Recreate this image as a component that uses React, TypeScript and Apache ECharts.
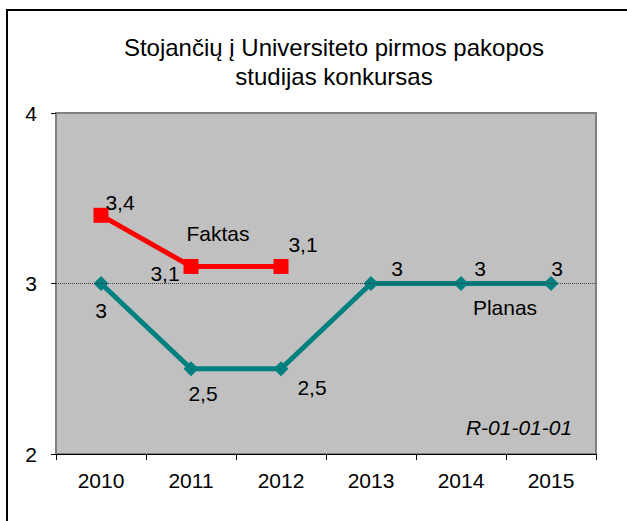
import React, { useEffect, useRef } from "react";
import * as echarts from "echarts";

const years = ["2010", "2011", "2012", "2013", "2014", "2015"];
const faktas = [3.4, 3.1, 3.1, null, null, null];
const planas = [3, 2.5, 2.5, 3, 3, 3];
const titleLines = ["Stojančių į Universiteto pirmos pakopos", "studijas konkursas"];

// label offsets (px) relative to each point
const faktasOffsets = [[19, -13], [-26, 7], [22, -22], [0, 0], [0, 0], [0, 0]];
const planasOffsets = [[0, 27], [12, 25], [31, 19], [26, -15], [19, -15], [6, -15]];

const FONT = "Liberation Sans, Arial, sans-serif";
const FS = 21;

export default function App() {
  const ref = useRef<HTMLDivElement>(null);
  useEffect(() => {
    const chart = echarts.init(ref.current!, null, { renderer: "svg" });
    const fmt = (p: any) => String(p.value).replace(".", ",");
    const mk = (vals: (number | null)[], offs: number[][]) =>
      vals.map((v, i) => ({
        value: v,
        label: { offset: offs[i] },
      }));
    chart.setOption({
      animation: false,
      backgroundColor: "#FFFFFF",
      grid: {
        left: 56,
        top: 113,
        width: 540,
        height: 341,
        show: true,
        backgroundColor: "#C0C0C0",
        borderColor: "#808080",
        borderWidth: 2,
      },
      xAxis: {
        type: "category",
        data: years,
        boundaryGap: true,
        axisLine: { show: true, lineStyle: { color: "#000000", width: 1 } },
        axisTick: { show: true, length: 6, interval: 0, lineStyle: { color: "#000000" } },
        axisLabel: { color: "#000000", fontSize: FS, fontFamily: FONT, margin: 16, interval: 0 },
        splitLine: { show: false },
      },
      yAxis: {
        type: "value",
        min: 2,
        max: 4,
        interval: 1,
        axisLine: { show: true, lineStyle: { color: "#808080", width: 1 } },
        axisTick: { show: true, length: 5, lineStyle: { color: "#000000" } },
        axisLabel: { color: "#000000", fontSize: FS, fontFamily: FONT, margin: 19 },
        splitLine: { show: false },
      },
      series: [
        {
          name: "Planas",
          type: "line",
          data: mk(planas, planasOffsets),
          symbol: "diamond",
          symbolSize: 15,
          itemStyle: { color: "#008080" },
          lineStyle: { color: "#008080", width: 5 },
          label: {
            show: true,
            position: "inside",
            formatter: fmt,
            color: "#000000",
            fontSize: FS,
            fontFamily: FONT,
            align: "center",
            verticalAlign: "middle",
          },
          markLine: {
            silent: true,
            symbol: "none",
            label: { show: false },
            lineStyle: { type: "dotted", color: "#404040", width: 1 },
            data: [{ yAxis: 3 }],
          },
          z: 3,
        },
        {
          name: "Faktas",
          type: "line",
          data: mk(faktas, faktasOffsets),
          symbol: "rect",
          symbolSize: 15,
          itemStyle: { color: "#FF0000" },
          lineStyle: { color: "#FF0000", width: 5 },
          label: {
            show: true,
            position: "inside",
            formatter: fmt,
            color: "#000000",
            fontSize: FS,
            fontFamily: FONT,
            align: "center",
            verticalAlign: "middle",
          },
          z: 4,
        },
      ],
      graphic: [
        { type: "line", shape: { x1: 6, y1: 10, x2: 627, y2: 10 }, style: { stroke: "#000", lineWidth: 2 } },
        { type: "line", shape: { x1: 7, y1: 9, x2: 7, y2: 521 }, style: { stroke: "#000", lineWidth: 2 } },
        {
          type: "text",
          x: 334,
          y: 47,
          style: { text: titleLines[0], fontSize: 24, fontFamily: FONT, fill: "#000", align: "center", verticalAlign: "middle" },
        },
        {
          type: "text",
          x: 334,
          y: 76,
          style: { text: titleLines[1], fontSize: 24, fontFamily: FONT, fill: "#000", align: "center", verticalAlign: "middle" },
        },
        {
          type: "text",
          x: 218,
          y: 233,
          z: 10,
          style: { text: "Faktas", fontSize: FS, fontFamily: FONT, fill: "#000", align: "center", verticalAlign: "middle" },
        },
        {
          type: "text",
          x: 505,
          y: 307,
          z: 10,
          style: { text: "Planas", fontSize: FS, fontFamily: FONT, fill: "#000", align: "center", verticalAlign: "middle" },
        },
        {
          type: "text",
          x: 519,
          y: 427,
          z: 10,
          style: { text: "R-01-01-01", fontSize: FS, fontStyle: "italic", fontFamily: FONT, fill: "#000", align: "center", verticalAlign: "middle" },
        },
      ],
    });
    return () => chart.dispose();
  }, []);
  return (
    <div
      ref={ref}
      style={{ position: "fixed", left: 0, top: 0, width: 627, height: 521 }}
    />
  );
}
